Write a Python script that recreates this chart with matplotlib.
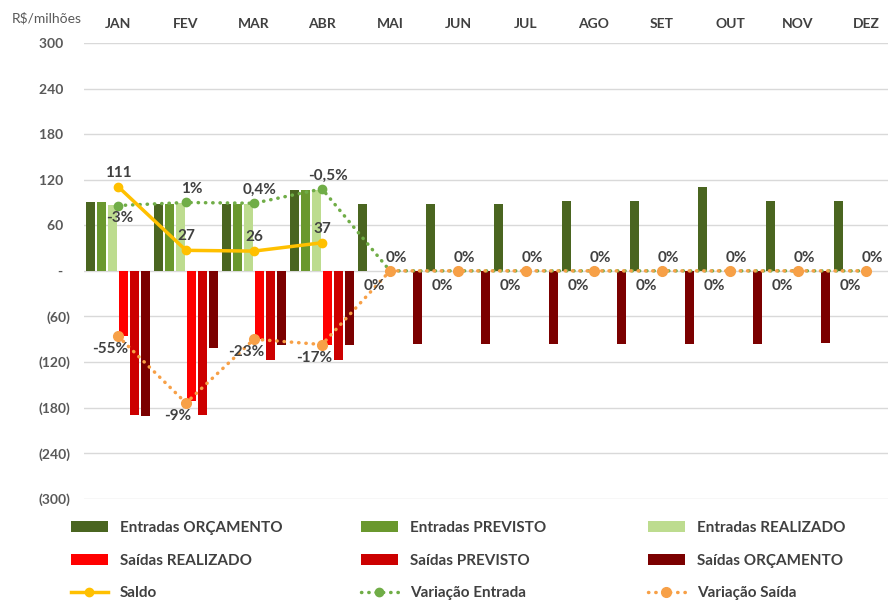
import numpy as np
import matplotlib.pyplot as plt

plt.rcParams['font.family'] = ['Lato', 'DejaVu Sans']

# dados (R$ milhões)
meses = ['JAN', 'FEV', 'MAR', 'ABR', 'MAI', 'JUN', 'JUL', 'AGO', 'SET', 'OUT', 'NOV', 'DEZ']
ent_orc = [90, 88, 88, 107, 88, 88, 88, 92, 92, 111, 92, 92]
ent_prev = [90, 88, 88, 107, 0, 0, 0, 0, 0, 0, 0, 0]
ent_real = [87, 89, 88, 106, 0, 0, 0, 0, 0, 0, 0, 0]
sai_real = [-86, -172, -90, -97, 0, 0, 0, 0, 0, 0, 0, 0]
sai_prev = [-190, -190, -117, -117, 0, 0, 0, 0, 0, 0, 0, 0]
sai_orc = [-191, -102, -97, -97, -96, -96, -96, -96, -96, -96, -95, -96]
saldo = [111, 27, 26, 37]
var_ent_pos = [86, 90, 89, 108, 0, 0, 0, 0, 0, 0, 0, 0]
var_ent_lbl = ['-3%', '1%', '0,4%', '-0,5%', '0%', '0%', '0%', '0%', '0%', '0%', '0%', '0%']
var_sai_pos = [-86, -174, -90, -97, 0, 0, 0, 0, 0, 0, 0, 0]
var_sai_lbl = ['-55%', '-9%', '-23%', '-17%', '0%', '0%', '0%', '0%', '0%', '0%', '0%', '0%']
yticks = [-300, -240, -180, -120, -60, 0, 60, 120, 180, 240, 300]
ytick_lbl = ['(300)', '(240)', '(180)', '(120)', '(60)', '-  ', '60  ', '120  ', '180  ', '240  ', '300  ']

txt = '#404040'
fig = plt.figure(figsize=(8.88, 6.04), dpi=100)
ax = fig.add_axes([84/888, 1-498.7/604, 816/888, 455.7/604])

x = np.arange(len(meses))
step = 11/68
w = 9/68
series = [
    (ent_orc, '#4a6520', 'Entradas ORÇAMENTO'),
    (ent_prev, '#6a982e', 'Entradas PREVISTO'),
    (ent_real, '#bddc8f', 'Entradas REALIZADO'),
    (sai_real, '#ff0000', 'Saídas REALIZADO'),
    (sai_prev, '#cc0000', 'Saídas PREVISTO'),
    (sai_orc, '#7b0000', 'Saídas ORÇAMENTO'),
]
h = {}
for i, (vals, c, nome) in enumerate(series):
    h[nome] = ax.bar(x + (i - 2.5)*step, vals, w, color=c, label=nome, zorder=2)

dots = (0, (0.1, 2.0))
l_saldo, = ax.plot(x[:len(saldo)], saldo, color='#ffc000', lw=2.5, marker='o', ms=6,
                   label='Saldo', zorder=4)
l_ent, = ax.plot(x, var_ent_pos, color='#70ad47', lw=2.5, ls=dots, dash_capstyle='round',
                 marker='o', ms=6, label='Variação Entrada', zorder=3)
l_sai, = ax.plot(x, var_sai_pos, color='#f7a047', lw=2.5, ls=dots, dash_capstyle='round',
                 marker='o', ms=7, label='Variação Saída', zorder=3)

lab = dict(fontsize=11, fontweight='bold', color=txt, ha='center', va='center',
           textcoords='offset pixels', zorder=5)
for i, v in enumerate(saldo):
    ax.annotate(str(v), (x[i], v), xytext=(0, 14), **lab)
for i, (v, s) in enumerate(zip(var_ent_pos, var_ent_lbl)):
    off = (2, -12) if i == 0 else (6, 13)
    ax.annotate(s, (x[i], v), xytext=off, **lab)
for i, (v, s) in enumerate(zip(var_sai_pos, var_sai_lbl)):
    off = (-8, -13) if i < 4 else (-16, -15)
    ax.annotate(s, (x[i], v), xytext=off, **lab)

ax.set_xlim(-0.5, 11.5)
ax.set_ylim(-300, 300)
ax.set_yticks(yticks)
ax.set_yticklabels(ytick_lbl, fontsize=10, fontweight='bold', color='#595959')
ax.yaxis.grid(True, color='#d9d9d9', lw=1)
ax.set_axisbelow(True)
ax.tick_params(axis='y', length=0, pad=10)
ax.xaxis.tick_top()
ax.set_xticks(x)
ax.set_xticklabels(meses, fontsize=10, fontweight='bold', color=txt)
ax.tick_params(axis='x', length=0, pad=9)
for s in ax.spines.values():
    s.set_visible(False)

fig.text(12/888, 1-18/604, 'R$/milhões', fontsize=10, color='#595959', va='center', ha='left')

cols = [
    ([h['Entradas ORÇAMENTO'], h['Saídas REALIZADO'], l_saldo], 71),
    ([h['Entradas PREVISTO'], h['Saídas PREVISTO'], l_ent], 361),
    ([h['Entradas REALIZADO'], h['Saídas ORÇAMENTO'], l_sai], 648),
]
for hs, px in cols:
    leg = fig.legend(handles=hs, loc='upper left', bbox_to_anchor=(px/888, 1-521/604),
                     frameon=False, prop=dict(size=11, weight='bold'), handlelength=2.4,
                     handleheight=0.7, handletextpad=0.8, labelspacing=1.22,
                     borderpad=0, borderaxespad=0)
    for t in leg.get_texts():
        t.set_color(txt)

plt.savefig('out.png', dpi=100)
